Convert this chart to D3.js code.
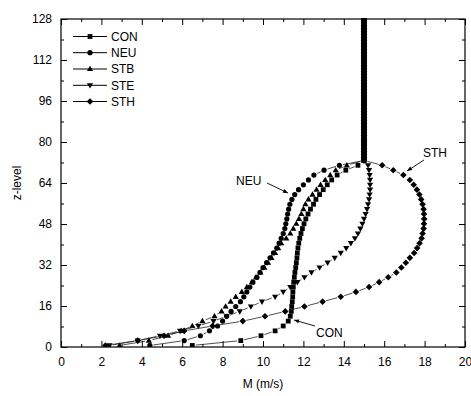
<!DOCTYPE html>
<meta charset="utf-8">
<script src="https://d3js.org/d3.v7.min.js"></script>
<style>
body { margin: 0; background: #fff; }
svg { font-family: Arial, "Liberation Sans", sans-serif; font-size: 12px; }
</style>
<div id="chart"></div>
<script>

// z-levels below the merge point (shared by every run)
var levels = [0.6, 2.5, 4.4, 6.3, 8.2, 10.1, 12.0, 13.9, 15.8, 17.7, 19.6, 21.5, 23.4,
  25.3, 27.2, 29.1, 31.0, 32.9, 34.8, 36.7, 38.6, 40.5, 42.4, 44.3, 46.2, 48.1, 50.0,
  51.9, 53.8, 55.7, 57.6, 59.5, 61.4, 63.3, 65.2, 67.1, 69.0, 70.9, 72.8];

var conM = [6.5, 8.9, 9.9, 10.6, 11.0, 11.25, 11.35, 11.4, 11.42, 11.45, 11.47, 11.48, 11.5,
  11.52, 11.55, 11.58, 11.62, 11.65, 11.68, 11.7, 11.73, 11.77, 11.82, 11.88, 11.95, 12.03,
  12.12, 12.23, 12.35, 12.5, 12.62, 12.8, 12.98, 13.18, 13.4, 13.67, 14.1, 14.7, 15.0];
var neuM = [4.4, 6.1, 6.9, 7.35, 7.75, 8.0, 8.2, 8.42, 8.65, 8.88, 9.05, 9.2, 9.35,
  9.5, 9.7, 9.85, 10.0, 10.18, 10.35, 10.52, 10.68, 10.8, 10.9, 11.0, 11.08, 11.13,
  11.18, 11.22, 11.27, 11.33, 11.43, 11.57, 11.76, 12.0, 12.25, 12.52, 13.02, 13.78, 15.0];
var stbM = [2.9, 4.35, 5.3, 5.95, 6.5, 7.0, 7.6, 7.95, 8.15, 8.4, 8.65, 8.95, 9.2,
  9.45, 9.65, 9.87, 10.07, 10.25, 10.42, 10.6, 10.75, 10.9, 11.15, 11.35, 11.5, 11.65,
  11.78, 11.9, 12.0, 12.1, 12.25, 12.45, 12.65, 12.85, 13.08, 13.33, 13.6, 14.15, 15.0];
var steM = [2.4, 3.8, 4.9, 5.9, 6.8, 7.55, 8.2, 8.85, 9.4, 9.95, 10.6, 11.0, 11.35,
  11.7, 12.05, 12.4, 12.8, 13.2, 13.55, 13.85, 14.12, 14.35, 14.55, 14.7, 14.82, 14.92,
  15.0, 15.08, 15.15, 15.2, 15.25, 15.28, 15.3, 15.3, 15.3, 15.28, 15.25, 15.2, 15.0];
var sthM = [2.2, 3.8, 5.1, 6.1, 7.5, 9.0, 10.1, 11.1, 12.05, 12.95, 13.85, 14.6, 15.25,
  15.75, 16.2, 16.6, 16.85, 17.07, 17.27, 17.48, 17.63, 17.75, 17.85, 17.9, 17.95, 17.97,
  17.98, 17.97, 17.95, 17.9, 17.83, 17.74, 17.62, 17.46, 17.27, 16.95, 16.45, 15.9, 15.0];

// upper levels, identical for all runs
var topLevels = [74.0, 75.2, 76.4, 77.6, 78.8, 80.0, 81.2, 82.4, 83.6, 84.8, 86.0, 87.2,
  88.4, 89.6, 90.8, 92.0, 93.2, 94.4, 95.6, 96.8, 98.0, 99.2, 100.4, 101.6, 102.8, 104.0,
  105.2, 106.4, 107.6, 108.8, 110.0, 111.2, 112.4, 113.6, 114.8, 116.0, 117.2, 118.4,
  119.6, 120.8, 122.0, 123.2, 124.4, 125.6, 126.8, 128.0];
var topM = [15, 15, 15, 15, 15, 15, 15, 15, 15, 15, 15, 15, 15, 15, 15, 15, 15, 15, 15,
  15, 15, 15, 15, 15, 15, 15, 15, 15, 15, 15, 15, 15, 15, 15, 15, 15, 15, 15, 15, 15,
  15, 15, 15, 15, 15, 15];

var names = ["CON", "NEU", "STB", "STE", "STH"];
var symbols = ["square", "circle", "triUp", "triDown", "diamond"];
var seriesM = [conM, neuM, stbM, steM, sthM];

var xTicks = [0, 2, 4, 6, 8, 10, 12, 14, 16, 18, 20];
var yTicks = [0, 16, 32, 48, 64, 80, 96, 112, 128];

var W = 471, H = 396;
var pLeft = 61, pRight = 465, pTop = 19, pBottom = 347;

var svg = d3.select("#chart").append("svg")
  .attr("width", W).attr("height", H);

var x = d3.scaleLinear().domain([0, 20]).range([pLeft, pRight]);
var y = d3.scaleLinear().domain([0, 128]).range([pBottom, pTop]);

// marker shapes
function symPath(s) {
  if (s == "square") return "M-2.4,-2.4H2.4V2.4H-2.4Z";
  if (s == "circle") return "M2.6,0A2.6,2.6 0 1,1 -2.6,0A2.6,2.6 0 1,1 2.6,0Z";
  if (s == "triUp") return "M0,-3.3L3.1,2.1L-3.1,2.1Z";
  if (s == "triDown") return "M0,3.3L3.1,-2.1L-3.1,-2.1Z";
  return "M0,-3.3L3.3,0L0,3.3L-3.3,0Z";
}

svg.append("defs").append("clipPath").attr("id", "clip")
  .append("rect").attr("x", pLeft).attr("y", pTop - 1)
  .attr("width", pRight - pLeft).attr("height", pBottom - pTop + 1);

var plot = svg.append("g").attr("clip-path", "url(#clip)");

var gap = 3.6;
seriesM.forEach(function(vals, k) {
  var pts = levels.map(function(z, i) { return [x(vals[i]), y(z)]; })
    .concat(topLevels.map(function(z, i) { return [x(topM[i]), y(z)]; }));

  // line segments with a gap around each symbol
  var segs = [];
  for (var i = 1; i < pts.length; i++) {
    var dx = pts[i][0] - pts[i-1][0], dy = pts[i][1] - pts[i-1][1];
    var d = Math.sqrt(dx*dx + dy*dy);
    if (d > 2*gap + 1) {
      var ux = dx/d, uy = dy/d;
      segs.push([pts[i-1][0] + ux*gap, pts[i-1][1] + uy*gap,
                 pts[i][0] - ux*gap, pts[i][1] - uy*gap]);
    }
  }
  plot.append("g").selectAll("line").data(segs).enter().append("line")
    .attr("x1", function(s) { return s[0]; }).attr("y1", function(s) { return s[1]; })
    .attr("x2", function(s) { return s[2]; }).attr("y2", function(s) { return s[3]; })
    .attr("stroke", "#222").attr("stroke-width", 0.8);

  plot.append("g").selectAll("path").data(pts).enter().append("path")
    .attr("d", symPath(symbols[k]))
    .attr("transform", function(p) { return "translate(" + p[0] + "," + p[1] + ")"; })
    .attr("fill", "#000");
});

// axes, ticks pointing inward
var minorX = [1, 3, 5, 7, 9, 11, 13, 15, 17, 19], minorY = [8, 24, 40, 56, 72, 88, 104, 120];

svg.append("g").attr("transform", "translate(0," + pBottom + ")")
  .call(d3.axisBottom(x).tickValues(xTicks).tickSizeInner(-6).tickSizeOuter(0).tickPadding(10));
svg.append("g").attr("transform", "translate(0," + pBottom + ")")
  .call(d3.axisBottom(x).tickValues(minorX).tickSizeInner(-3).tickSizeOuter(0).tickFormat(""));
svg.append("g").attr("transform", "translate(0," + pTop + ")")
  .call(d3.axisTop(x).tickValues(xTicks).tickSizeInner(-6).tickSizeOuter(0).tickFormat(""));
svg.append("g").attr("transform", "translate(0," + pTop + ")")
  .call(d3.axisTop(x).tickValues(minorX).tickSizeInner(-3).tickSizeOuter(0).tickFormat(""));

svg.append("g").attr("transform", "translate(" + pLeft + ",0)")
  .call(d3.axisLeft(y).tickValues(yTicks).tickSizeInner(-6).tickSizeOuter(0).tickPadding(9));
svg.append("g").attr("transform", "translate(" + pLeft + ",0)")
  .call(d3.axisLeft(y).tickValues(minorY).tickSizeInner(-3).tickSizeOuter(0).tickFormat(""));
svg.append("g").attr("transform", "translate(" + pRight + ",0)")
  .call(d3.axisRight(y).tickValues(yTicks).tickSizeInner(-6).tickSizeOuter(0).tickFormat(""));
svg.append("g").attr("transform", "translate(" + pRight + ",0)")
  .call(d3.axisRight(y).tickValues(minorY).tickSizeInner(-3).tickSizeOuter(0).tickFormat(""));

svg.selectAll(".tick text").attr("font-size", 12).attr("font-family", "Arial, 'Liberation Sans', sans-serif").attr("fill", "#000");
svg.selectAll(".domain").remove();

svg.append("rect").attr("x", pLeft).attr("y", pTop)
  .attr("width", pRight - pLeft).attr("height", pBottom - pTop)
  .attr("fill", "none").attr("stroke", "#000").attr("stroke-width", 1.2);

// axis titles
svg.append("text").attr("x", (pLeft + pRight) / 2).attr("y", 388)
  .attr("text-anchor", "middle").text("M (m/s)");
svg.append("text")
  .attr("transform", "translate(21," + (pTop + pBottom) / 2 + ") rotate(-90)")
  .attr("text-anchor", "middle").text("z-level");

// legend
var legY = [36.5, 52.7, 69, 85.3, 101.5];
names.forEach(function(n, k) {
  var g = svg.append("g").attr("transform", "translate(0," + legY[k] + ")");
  g.append("line").attr("x1", 73).attr("x2", 107).attr("stroke", "#000").attr("stroke-width", 1);
  g.append("path").attr("d", symPath(symbols[k])).attr("transform", "translate(90,0)");
  g.append("text").attr("x", 111).attr("y", 4.3).text(n);
});

// annotations
var notes = [
  {t: "CON", tx: 316, ty: 337, x1: 315, y1: 326, x2: 294, y2: 320},
  {t: "NEU", tx: 236, ty: 185, x1: 267, y1: 183, x2: 288, y2: 193},
  {t: "STH", tx: 423, ty: 157, x1: 424, y1: 160, x2: 407, y2: 171}
];
notes.forEach(function(a) {
  svg.append("text").attr("x", a.tx).attr("y", a.ty).text(a.t);
  svg.append("line").attr("x1", a.x1).attr("y1", a.y1).attr("x2", a.x2).attr("y2", a.y2)
    .attr("stroke", "#000").attr("stroke-width", 0.9);
  var ang = Math.atan2(a.y2 - a.y1, a.x2 - a.x1) * 180 / Math.PI;
  svg.append("path").attr("d", "M0,0L-5,-2L-5,2Z")
    .attr("transform", "translate(" + a.x2 + "," + a.y2 + ") rotate(" + ang + ")");
});
</script>
